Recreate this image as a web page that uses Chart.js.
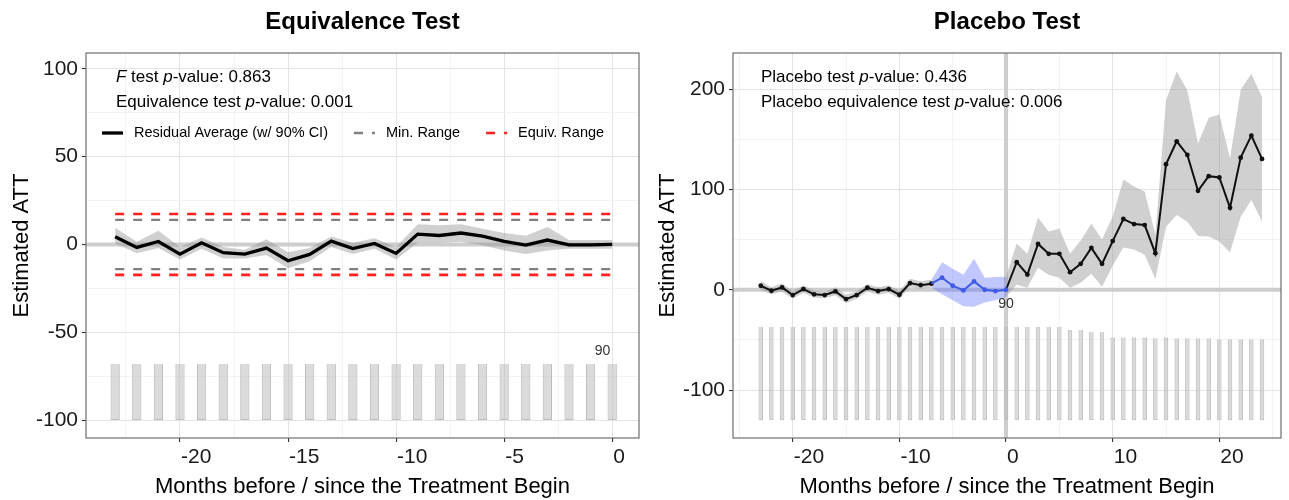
<!DOCTYPE html>
<html>
<head>
<meta charset="utf-8">
<title>Equivalence and Placebo Tests</title>
<script src="https://cdn.jsdelivr.net/npm/chart.js@4.4.1/dist/chart.umd.min.js"></script>
<style>
  html, body { margin: 0; padding: 0; background: #fff; }
  #wrap { position: relative; width: 1289px; height: 500px; overflow: hidden; }
  #panel-equiv   { position: absolute; left: 0;     top: 0; }
  #panel-placebo { position: absolute; left: 645px; top: 0; }
</style>
</head>
<body>
<div id="wrap">
  <canvas id="panel-equiv" width="645" height="500"></canvas>
  <canvas id="panel-placebo" width="644" height="500"></canvas>
</div>
<script>
'use strict';

// ── Data: equivalence test (left) ─────────────────────────────
const EQ_MONTHS = [-23, -22, -21, -20, -19, -18, -17, -16, -15, -14, -13, -12,
                   -11, -10, -9, -8, -7, -6, -5, -4, -3, -2, -1, 0];
const EQ_ATT    = [4.4, -1.7, 1.7, -5.5, 0.9, -4.7, -5.5, -2.1, -9.3, -5.7, 1.9, -2.3,
                   0.6, -5.1, 5.9, 5.1, 6.5, 4.7, 1.7, -0.4, 2.5, -0.2, -0.2, 0];
const EQ_CI_LO  = [0.5, -5, -2, -8.5, -2.5, -8, -8, -6, -13.5, -9.5, -1.5, -5.5,
                   -2.5, -8.5, 1, 1, 1.5, -0.5, -3.5, -5.5, -3.5, -2.5, -2.5, -2.5];
const EQ_CI_HI  = [9.5, 1.5, 7.8, -1.5, 4, -1.5, -3, 3, -4.5, -2, 4.5, 1,
                   3.5, -1.5, 11.5, 11, 11.5, 9, 6.5, 5, 10, 2.5, 2.5, 2.5];
const EQ_COUNT  = [90, 90, 90, 90, 90, 90, 90, 90, 90, 90, 90, 90,
                   90, 90, 90, 90, 90, 90, 90, 90, 90, 90, 90, 90];
const EQ_MIN_RANGE   = [-14, 14];
const EQ_EQUIV_RANGE = [-17.3, 17.3];

// ── Data: placebo test (right) ────────────────────────────────
const PL_MONTHS = [-23, -22, -21, -20, -19, -18, -17, -16, -15, -14, -13, -12,
                   -11, -10, -9, -8, -7, -6, -5, -4, -3, -2, -1, 0,
                   1, 2, 3, 4, 5, 6, 7, 8, 9, 10, 11, 12,
                   13, 14, 15, 16, 17, 18, 19, 20, 21, 22, 23, 24];
const PL_ATT    = [4, -1, 2.3, -5.3, 0.7, -4.6, -5.3, -1.7, -9.3, -5.3, 2, -1.3,
                   0.7, -5, 6.6, 4.6, 6, 12, 4, -0.7, 8.3, 0, -1.3, 0,
                   27.5, 15.2, 45.7, 35.8, 35.8, 17.5, 25.8, 41.7, 25.8, 48.5, 70.5, 65.5,
                   64.5, 36.4, 125.1, 148, 134.4, 98.6, 113.2, 111.9, 81.7, 131.7, 153.6, 130.4];
const PL_CI_LO  = [0, -4.5, -2, -9, -3, -8, -8.5, -5.5, -13.5, -9, -1.5, -5,
                   -3, -9, 2.5, 1, 2, -4.6, -10.6, -16.5, -17, -12.6, -10.6, -7.3,
                   5, 2, 22, 15, 12, 2, 7, 16, 3, 24, 42, 40,
                   35, 10.6, 62.9, 74.5, 67.9, 53.6, 53, 48, 37.1, 72.8, 89.4, 67.9];
const PL_CI_HI  = [9, 2.5, 6.5, -1.5, 4.5, -1, -2, 2.5, -5, -1.5, 5.5, 2.5,
                   4.5, -1, 11, 8.5, 10, 27.5, 21, 15, 31, 12, 12.6, 13,
                   46, 36, 72, 58, 61, 36, 49, 66, 50, 73, 110, 103,
                   98, 55, 188.7, 217.8, 198.6, 145.7, 171.5, 174.8, 130.8, 199.3, 215.2, 192];
const PL_COUNT  = [90, 90, 90, 90, 90, 90, 90, 90, 90, 90, 90, 90,
                   90, 90, 90, 90, 90, 90, 90, 90, 90, 90, 90, 90,
                   90, 90, 90, 90, 90, 87, 87, 85, 85, 80, 80, 80,
                   80, 79, 80, 79, 79, 79, 79, 78, 78, 78, 78, 78];
const PL_PLACEBO = [-6, 0];   // placebo periods (blue)

// ── Tick labels ───────────────────────────────────────────────
const EQ_X_TICKS = [-20, -15, -10, -5, 0];
const EQ_X_MINOR = [-22.5, -17.5, -12.5, -7.5, -2.5];
const EQ_Y_TICKS = [-100, -50, 0, 50, 100];
const EQ_Y_MINOR = [-75, -25, 25, 75];
const PL_X_TICKS = [-20, -10, 0, 10, 20];
const PL_X_MINOR = [-25, -15, -5, 5, 15, 25];
const PL_Y_TICKS = [-100, 0, 100, 200];
const PL_Y_MINOR = [-50, 50, 150];

// ── Texts ─────────────────────────────────────────────────────
const TITLES  = ['Equivalence Test', 'Placebo Test'];
const X_TITLE = 'Months before / since the Treatment Begin';
const Y_TITLE = 'Estimated ATT';
const EQ_NOTES = [
  [['F', true], [' test ', false], ['p', true], ['-value: 0.863', false]],
  [['Equivalence test ', false], ['p', true], ['-value: 0.001', false]]
];
const PL_NOTES = [
  [['Placebo test ', false], ['p', true], ['-value: 0.436', false]],
  [['Placebo equivalence test ', false], ['p', true], ['-value: 0.006', false]]
];
const EQ_LEGEND = ['Residual Average (w/ 90% CI)', 'Min. Range', 'Equiv. Range'];

// ── Style ─────────────────────────────────────────────────────
const FONT      = "'Liberation Sans', Arial, Helvetica, sans-serif";
const BAND_GREY = 'rgba(150,150,150,0.45)';
const BAND_BLUE = 'rgba(90,110,255,0.38)';
const BLUE      = '#3f5ce6';
const RED       = '#ff1f1f';
const DASH_GREY = '#808080';

// ── Helpers ───────────────────────────────────────────────────
function series(xs, ys) {
  return xs.map((x, i) => ({ x, y: ys[i] }));
}

function pick(xs, ys, from, to) {
  const out = [];
  xs.forEach((x, i) => { if (x >= from && x <= to) out.push({ x, y: ys[i] }); });
  return out;
}

function countBars(xs, counts, base, top) {
  const max = Math.max(...counts);
  return xs.map((x, i) => ({ x, y: [base, base + (top - base) * counts[i] / max] }));
}

function flat(xs, value) {
  return [{ x: xs[0], y: value }, { x: xs[xs.length - 1], y: value }];
}

function axis(major, minor, min, max, o) {
  const isMajor = c => c.tick && major.includes(c.tick.value);
  return {
    type: 'linear', min, max, offset: false,
    afterBuildTicks: s => { s.ticks = major.concat(minor).sort((a, b) => a - b).map(v => ({ value: v })); },
    afterFit: o.fit,
    ticks: {
      autoSkip: false, maxRotation: 0, minRotation: 0,
      callback: v => major.includes(v) ? String(v) : '',
      font: { family: FONT, size: 21 }, color: '#1a1a1a',
      padding: o.pad, align: o.align || 'center', labelOffset: o.labelOffset || 0
    },
    grid: {
      offset: false,
      color: c => isMajor(c) ? '#e4e4e4' : '#f0f0f0',
      lineWidth: c => isMajor(c) ? 1.1 : 0.8,
      tickColor: c => isMajor(c) ? '#333' : 'rgba(0,0,0,0)',
      tickLength: 4, tickWidth: 1.1, drawTicks: true
    },
    border: { display: false },
    title: {
      display: true, text: o.title, color: '#000',
      font: { family: FONT, size: 22 }, padding: o.titlePad
    }
  };
}

function lineSet(data, color, width, extra) {
  return Object.assign({
    type: 'line', data, borderColor: color, borderWidth: width, backgroundColor: color,
    pointRadius: 0, tension: 0, fill: false
  }, extra || {});
}

function band(lo, hi, color, order) {
  return [
    { type: 'line', data: lo, borderWidth: 0, pointRadius: 0, fill: false, order },
    { type: 'line', data: hi, borderWidth: 0, pointRadius: 0, fill: '-1', backgroundColor: color, order }
  ];
}

function drawRuns(ctx, runs, x, y, size) {
  let cx = x;
  runs.forEach(([text, italic]) => {
    ctx.font = (italic ? 'italic ' : '') + size + 'px ' + FONT;
    ctx.fillText(text, cx, y);
    cx += ctx.measureText(text).width;
  });
}

// zero lines, panel border, notes, legend, count label
function decor(cfg) {
  return {
    id: 'decor',
    beforeDatasetsDraw(chart) {
      const { ctx, chartArea: a, scales: { x, y } } = chart;
      ctx.save();
      ctx.beginPath(); ctx.rect(a.left, a.top, a.width, a.height); ctx.clip();
      ctx.strokeStyle = '#cdcdcd';
      ctx.lineWidth = 4;
      const y0 = y.getPixelForValue(0);
      ctx.beginPath(); ctx.moveTo(a.left, y0); ctx.lineTo(a.right, y0); ctx.stroke();
      if (cfg.vline) {
        const x0 = x.getPixelForValue(0);
        ctx.beginPath(); ctx.moveTo(x0, a.top); ctx.lineTo(x0, a.bottom); ctx.stroke();
      }
      ctx.restore();
    },
    afterDatasetsDraw(chart) {
      const { ctx, chartArea: a, scales: { x, y } } = chart;
      ctx.save();
      ctx.strokeStyle = '#6e6e6e';
      ctx.lineWidth = 1.2;
      ctx.strokeRect(a.left, a.top, a.width, a.height);

      ctx.fillStyle = '#000';
      ctx.textAlign = 'left';
      ctx.textBaseline = 'middle';
      cfg.notes.forEach((runs, i) => drawRuns(ctx, runs, a.left + cfg.noteX, a.top + 24 + i * 25, 17));

      if (cfg.legend) {
        let lx = a.left + 16;
        const ly = a.top + 80;
        cfg.legend.forEach(item => {
          ctx.save();
          ctx.strokeStyle = item.color;
          ctx.lineWidth = item.width;
          ctx.setLineDash(item.dash);
          ctx.beginPath(); ctx.moveTo(lx, ly); ctx.lineTo(lx + 21, ly); ctx.stroke();
          ctx.restore();
          ctx.font = '14.5px ' + FONT;
          ctx.fillStyle = '#000';
          ctx.fillText(item.label, lx + 32, ly);
          lx += 32 + ctx.measureText(item.label).width + 26;
        });
      }

      ctx.font = '14px ' + FONT;
      ctx.fillStyle = '#333';
      ctx.textAlign = 'center';
      ctx.fillText(cfg.count.text, x.getPixelForValue(cfg.count.x), y.getPixelForValue(cfg.count.y));
      ctx.restore();
    }
  };
}

function baseOptions(title, padRight, xAxis, yAxis) {
  return {
    responsive: false,
    animation: false,
    events: [],
    layout: { padding: { left: 0, right: padRight, top: 0, bottom: 0 } },
    plugins: {
      legend: { display: false },
      tooltip: { enabled: false },
      title: {
        display: true, text: title, fullSize: false, color: '#000',
        font: { family: FONT, size: 24, weight: 'bold' },
        padding: { top: 7.6, bottom: 16.6 }
      }
    },
    scales: { x: xAxis, y: yAxis }
  };
}

// ── Equivalence Test ──────────────────────────────────────────
function renderEquivalence() {
  const xAxis = axis(EQ_X_TICKS, EQ_X_MINOR, -24.35, 1.24, {
    title: X_TITLE, pad: 3, align: 'start', labelOffset: 1,
    titlePad: { top: 0, bottom: 0 }, fit: s => { s.height = 62; }
  });
  const yAxis = axis(EQ_Y_TICKS, EQ_Y_MINOR, -110.2, 109, {
    title: Y_TITLE, pad: 4, titlePad: { top: 9, bottom: 0 }, fit: s => { s.width = 86; }
  });

  const datasets = [
    lineSet(series(EQ_MONTHS, EQ_ATT), '#000', 3.3, { order: 1 }),
    ...band(series(EQ_MONTHS, EQ_CI_LO), series(EQ_MONTHS, EQ_CI_HI), BAND_GREY, 6),
    lineSet(flat(EQ_MONTHS, EQ_MIN_RANGE[0]), DASH_GREY, 2.3, { borderDash: [9, 9], order: 3 }),
    lineSet(flat(EQ_MONTHS, EQ_MIN_RANGE[1]), DASH_GREY, 2.3, { borderDash: [9, 9], order: 3 }),
    lineSet(flat(EQ_MONTHS, EQ_EQUIV_RANGE[0]), RED, 2.6, { borderDash: [9, 9], order: 2 }),
    lineSet(flat(EQ_MONTHS, EQ_EQUIV_RANGE[1]), RED, 2.6, { borderDash: [9, 9], order: 2 }),
    {
      type: 'bar', data: countBars(EQ_MONTHS, EQ_COUNT, -100, -68),
      backgroundColor: 'rgba(190,190,190,0.55)', borderColor: '#bdbdbd', borderWidth: 1,
      categoryPercentage: 1, barPercentage: 0.43, order: 10
    }
  ];

  new Chart(document.getElementById('panel-equiv'), {
    type: 'line',
    data: { datasets },
    options: baseOptions(TITLES[0], 6, xAxis, yAxis),
    plugins: [decor({
      vline: false, notes: EQ_NOTES, noteX: 30,
      legend: [
        { label: EQ_LEGEND[0], color: '#000', width: 3.3, dash: [] },
        { label: EQ_LEGEND[1], color: DASH_GREY, width: 2.3, dash: [9, 9] },
        { label: EQ_LEGEND[2], color: RED, width: 2.6, dash: [9, 9] }
      ],
      count: { text: String(Math.max(...EQ_COUNT)), x: -0.45, y: -60.6 }
    })]
  });
}

// ── Placebo Test ──────────────────────────────────────────────
function renderPlacebo() {
  const xAxis = axis(PL_X_TICKS, PL_X_MINOR, -25.6, 25.78, {
    title: X_TITLE, pad: 3, align: 'start', labelOffset: 1,
    titlePad: { top: 0, bottom: 0 }, fit: s => { s.height = 62; }
  });
  const yAxis = axis(PL_Y_TICKS, PL_Y_MINOR, -147.8, 236, {
    title: Y_TITLE, pad: 4, titlePad: { top: 10, bottom: 0 }, fit: s => { s.width = 88; }
  });

  const first = PL_PLACEBO[0], last = PL_PLACEBO[1];
  const start = PL_MONTHS[0], end = PL_MONTHS[PL_MONTHS.length - 1];
  const dot = 2.4;

  const datasets = [
    lineSet(pick(PL_MONTHS, PL_ATT, first - 1, last), BLUE, 2, {
      order: 0, pointRadius: c => (c.raw && c.raw.x < first) ? 0 : dot, pointBorderWidth: 0
    }),
    lineSet(pick(PL_MONTHS, PL_ATT, start, first - 1), '#111', 2, {
      order: 1, pointRadius: dot, pointBorderWidth: 0
    }),
    lineSet(pick(PL_MONTHS, PL_ATT, last, end), '#111', 2, {
      order: 1, pointRadius: c => (c.raw && c.raw.x <= last) ? 0 : dot, pointBorderWidth: 0
    }),
    ...band(pick(PL_MONTHS, PL_CI_LO, start, first - 1), pick(PL_MONTHS, PL_CI_HI, start, first - 1), BAND_GREY, 6),
    ...band(pick(PL_MONTHS, PL_CI_LO, first - 1, last), pick(PL_MONTHS, PL_CI_HI, first - 1, last), BAND_BLUE, 5),
    ...band(pick(PL_MONTHS, PL_CI_LO, last, end), pick(PL_MONTHS, PL_CI_HI, last, end), BAND_GREY, 6),
    {
      type: 'bar', data: countBars(PL_MONTHS, PL_COUNT, -130, -37),
      backgroundColor: 'rgba(190,190,190,0.55)', borderColor: '#bdbdbd', borderWidth: 1,
      categoryPercentage: 1, barPercentage: 0.42, order: 10
    }
  ];

  new Chart(document.getElementById('panel-placebo'), {
    type: 'line',
    data: { datasets },
    options: baseOptions(TITLES[1], 8, xAxis, yAxis),
    plugins: [decor({
      vline: true, notes: PL_NOTES, noteX: 28, legend: null,
      count: { text: String(Math.max(...PL_COUNT)), x: 0, y: -14.6 }
    })]
  });
}

renderEquivalence();
renderPlacebo();
</script>
</body>
</html>
